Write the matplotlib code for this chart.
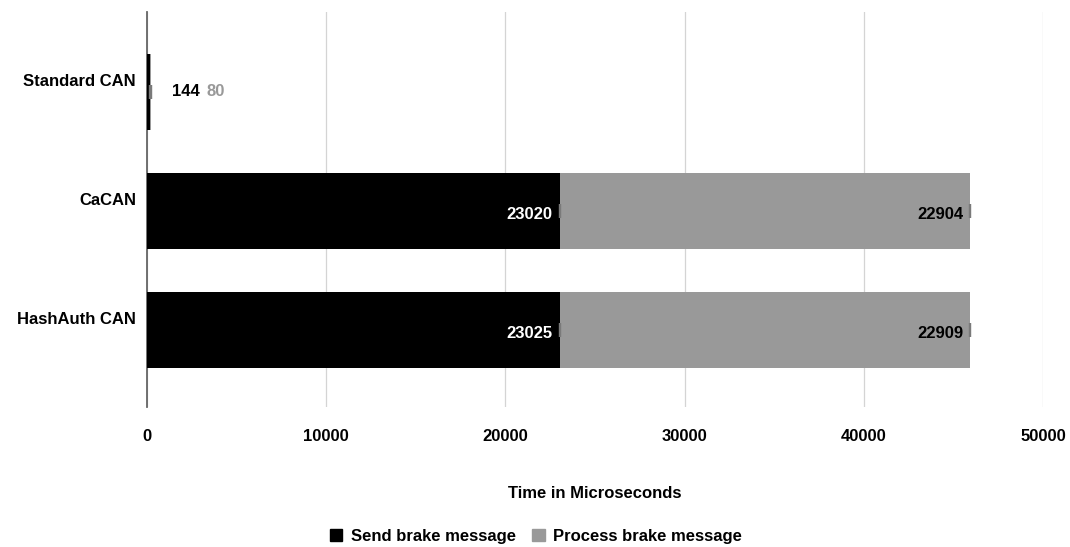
import matplotlib
matplotlib.use("Agg")
import matplotlib.pyplot as plt
from matplotlib.transforms import ScaledTranslation
from matplotlib.patches import Patch

categories = ["Standard CAN", "CaCAN", "HashAuth CAN"]
send_times = [144, 23020, 23025]
process_times = [80, 22904, 22909]
xticks = [0, 10000, 20000, 30000, 40000, 50000]

SEND_COLOR = "#000000"
PROC_COLOR = "#999999"
FS = 12

plt.rcParams["font.family"] = ["Liberation Sans", "DejaVu Sans"]
plt.rcParams["font.weight"] = "bold"

fig = plt.figure(figsize=(10.70, 5.47), dpi=100)
ax = fig.add_axes([0.1374, 0.256, 0.8374, 0.722])

ypos = list(range(len(categories)))
bar_h = 0.64
ax.barh(ypos, send_times, height=bar_h, color=SEND_COLOR, zorder=3)
ax.barh(ypos, process_times, left=send_times, height=bar_h, color=PROC_COLOR, zorder=3)

# small error markers at the end of each segment
ends_send = send_times
ends_proc = [s + p for s, p in zip(send_times, process_times)]
for ends in (ends_send, ends_proc):
    ax.errorbar(ends, ypos, xerr=0, fmt="none", ecolor="#7a7a7a",
                elinewidth=1.2, capsize=4.7, capthick=1.6, zorder=4)

ax.set_xlim(0, 50000)
ax.set_ylim(2.65, -0.67)
ax.set_xticks(xticks)
ax.set_xticklabels([str(t) for t in xticks], fontsize=FS, fontweight="bold")
ax.set_yticks(ypos)
ax.set_yticklabels(categories, fontsize=FS, fontweight="bold")
ax.tick_params(axis="both", length=0)
ax.tick_params(axis="x", pad=16)
ax.tick_params(axis="y", pad=8)
off = ScaledTranslation(0, 12 / 100, fig.dpi_scale_trans)
for lbl in ax.get_yticklabels():
    lbl.set_transform(lbl.get_transform() + off)

ax.grid(axis="x", color="#d4d4d4", linewidth=0.9, zorder=0)
for s in ["top", "right", "bottom"]:
    ax.spines[s].set_visible(False)
ax.spines["left"].set_color("#666666")
ax.spines["left"].set_linewidth(1.3)
ax.spines["left"].set_zorder(2)

# value labels
for i, (s, p) in enumerate(zip(send_times, process_times)):
    if s < 2000:
        ax.annotate(str(s), xy=(s + p, i), xytext=(15, 0), textcoords="offset points",
                    ha="left", va="center", fontsize=FS, fontweight="bold", color="#000000")
        ax.annotate(str(p), xy=(s + p, i), xytext=(40, 0), textcoords="offset points",
                    ha="left", va="center", fontsize=FS, fontweight="bold", color=PROC_COLOR)
    else:
        ax.annotate(str(s), xy=(s, i), xytext=(-5, -3), textcoords="offset points",
                    ha="right", va="center", fontsize=FS, fontweight="bold", color="#ffffff")
        ax.annotate(str(p), xy=(s + p, i), xytext=(-5, -3), textcoords="offset points",
                    ha="right", va="center", fontsize=FS, fontweight="bold", color="#000000")

ax.set_xlabel("Time in Microseconds", fontsize=FS, fontweight="bold", labelpad=30)

handles = [Patch(color=SEND_COLOR, label="Send brake message"),
           Patch(color=PROC_COLOR, label="Process brake message")]
fig.legend(handles=handles, loc="center", bbox_to_anchor=(0.501, 0.02),
           ncol=2, frameon=False, fontsize=FS, handlelength=0.75, handleheight=0.75,
           handletextpad=0.5, columnspacing=1.0)

fig.savefig("out.png", dpi=100, facecolor="white")
